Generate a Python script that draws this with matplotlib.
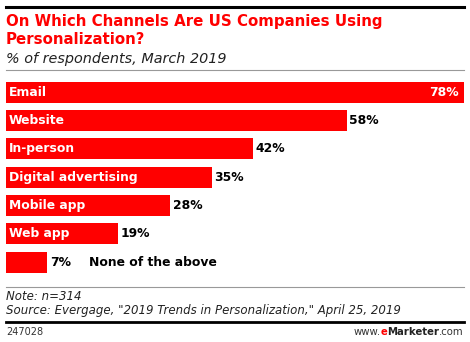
import matplotlib.pyplot as plt
from matplotlib.lines import Line2D

categories = ["Email", "Website", "In-person", "Digital advertising",
              "Mobile app", "Web app", "None of the above"]
values = [78, 58, 42, 35, 28, 19, 7]

W, H = 470, 342
red = "#ff0000"
fam = "DejaVu Sans"

fig = plt.figure(figsize=(W / 100, H / 100), dpi=100)


def fx(x):
    return x / W


def fy(y):
    return 1 - y / H


def hline(y, color, lw):
    fig.add_artist(Line2D([fx(6), fx(464)], [fy(y), fy(y)], color=color,
                          linewidth=lw, transform=fig.transFigure))


# header
hline(6.5, "black", 2.2)
fig.text(fx(6), fy(26), "On Which Channels Are US Companies Using",
         color=red, fontsize=10.8, fontweight="bold", family=fam, va="baseline")
fig.text(fx(6), fy(44), "Personalization?",
         color=red, fontsize=10.8, fontweight="bold", family=fam, va="baseline")
fig.text(fx(6), fy(62.5), "% of respondents, March 2019",
         color="#222222", fontsize=10.4, style="italic", family=fam, va="baseline")
hline(70, "#999999", 0.8)

# bars
ax = fig.add_axes([fx(6), fy(276.5), fx(464) - fx(6), (276.5 - 78.1) / H])
ypos = list(range(len(categories)))
ax.barh(ypos, values, height=0.74, color=red, edgecolor="none")
ax.set_xlim(0, 78)
ax.set_ylim(len(categories) - 0.5, -0.5)
ax.axis("off")

for i, (cat, v) in enumerate(zip(categories, values)):
    if i == 0:
        ax.text(v - 0.9, i, f"{v}%", color="white", fontsize=8.9,
                fontweight="bold", family=fam, ha="right", va="center")
    else:
        ax.text(v + 0.5, i, f"{v}%", color="black", fontsize=8.9,
                fontweight="bold", family=fam, ha="left", va="center")
    if cat == "None of the above":
        ax.text(14.2, i, cat, color="black", fontsize=8.9,
                fontweight="bold", family=fam, ha="left", va="center")
    else:
        ax.text(0.5, i, cat, color="white", fontsize=8.9,
                fontweight="bold", family=fam, ha="left", va="center")

# footer
hline(287, "#999999", 0.8)
fig.text(fx(6), fy(300), "Note: n=314", color="#222222", fontsize=8.5,
         style="italic", family=fam, va="baseline")
fig.text(fx(6), fy(314), 'Source: Evergage, "2019 Trends in Personalization," April 25, 2019',
         color="#222222", fontsize=8.5, style="italic", family=fam, va="baseline")
hline(321.5, "black", 2.0)
fig.text(fx(6), fy(335), "247028", color="#333333", fontsize=7,
         family=fam, va="baseline")

# branded url, drawn in pieces from the right edge
fig.canvas.draw()
r = fig.canvas.get_renderer()
x = fx(464)
for part, col, wt in [(".com", "#333333", "normal"), ("Marketer", "#222222", "bold"),
                      ("e", red, "bold"), ("www.", "#333333", "normal")]:
    t = fig.text(x, fy(335), part, color=col, fontsize=7.3, family=fam,
                 fontweight=wt, va="baseline", ha="right")
    bb = t.get_window_extent(renderer=r)
    x -= bb.width / W

fig.savefig("out.png", dpi=100)
